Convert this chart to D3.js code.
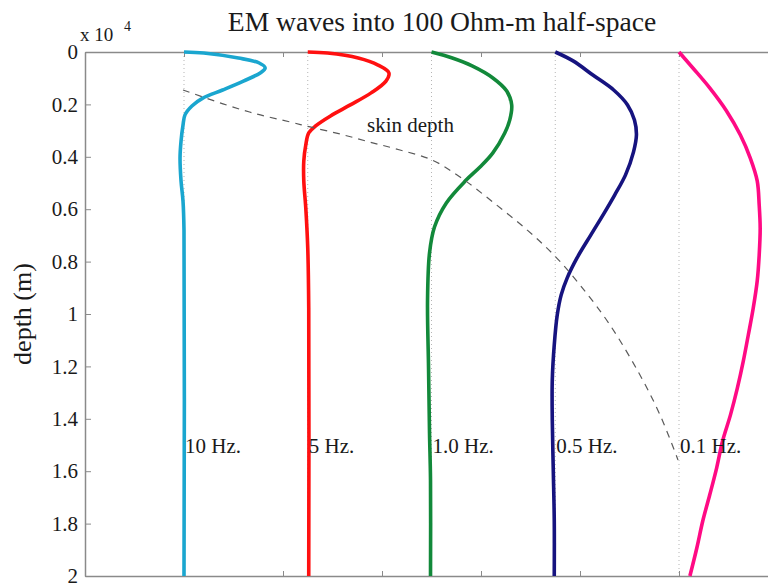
<!DOCTYPE html>
<html>
<head>
<meta charset="utf-8">
<script src="https://cdn.jsdelivr.net/npm/d3@7"></script>
<style>
  body { margin: 0; background: #fff; }
  text { font-family: "Liberation Serif", "Times New Roman", serif; fill: #1a1a1a; }
</style>
</head>
<body>
<svg id="chart" width="768" height="583"></svg>
<script>
const svg = d3.select("#chart");

// depth ticks, in units of 10^4 m
const yTicks = [0, 0.2, 0.4, 0.6, 0.8, 1, 1.2, 1.4, 1.6, 1.8, 2];
const xTicks = [0, 1, 2, 3, 4, 5, 6, 7];

// one zero line per frequency
const freqLabels = ["10 Hz.", "5 Hz.", "1.0 Hz.", "0.5 Hz.", "0.1 Hz."];
const baselines = [1, 2.25, 3.5, 4.75, 6.0];
const colors = ["#1aa6cf", "#ff1010", "#12893a", "#16137f", "#ff0a84"];

// [depth (x10^4 m), field amplitude relative to the zero line]
const wave10 = [[0,0],[0.004,0.2],[0.023,0.55],[0.042,0.76],[0.061,0.82],[0.080,0.77],[0.111,0.60],
  [0.145,0.39],[0.176,0.19],[0.206,0.08],[0.240,0.01],[0.279,-0.01],[0.340,-0.03],[0.405,-0.04],
  [0.492,-0.03],[0.569,-0.01],[0.68,0],[2,0]];
const wave5 = [[0,0],[0.004,0.2],[0.023,0.51],[0.050,0.71],[0.080,0.82],[0.111,0.79],[0.156,0.64],
  [0.202,0.43],[0.244,0.23],[0.282,0.08],[0.309,0.01],[0.355,-0.02],[0.416,-0.04],[0.492,-0.04],
  [0.595,-0.02],[0.748,0],[0.977,0.01],[2,0.01]];
const wave1 = [[0,0],[0.023,0.21],[0.053,0.41],[0.099,0.62],[0.149,0.76],[0.202,0.81],[0.260,0.79],
  [0.309,0.74],[0.385,0.62],[0.439,0.49],[0.489,0.35],[0.576,0.15],[0.668,0.03],[0.767,-0.02],
  [0.947,-0.04],[1.202,-0.03],[1.454,-0.02],[1.634,-0.01],[2,-0.01]];
const wave05 = [[0,0],[0.034,0.18],[0.088,0.38],[0.145,0.59],[0.202,0.73],[0.260,0.80],[0.317,0.82],
  [0.382,0.79],[0.469,0.71],[0.546,0.60],[0.611,0.50],[0.698,0.36],[0.786,0.22],[0.863,0.12],
  [0.927,0.06],[1.004,0.02],[1.118,-0.01],[1.252,-0.03],[1.405,-0.03],[1.595,-0.02],[1.786,-0.01],[2,-0.01]];
const wave01 = [[0,0],[0.061,0.14],[0.137,0.31],[0.225,0.48],[0.317,0.62],[0.405,0.72],[0.492,0.79],
  [0.584,0.81],[0.672,0.82],[0.775,0.81],[0.874,0.79],[0.977,0.75],[1.080,0.70],[1.179,0.65],
  [1.282,0.59],[1.385,0.52],[1.485,0.44],[1.588,0.38],[1.691,0.31],[1.790,0.24],[1.893,0.18],[2,0.11]];
const waves = [wave10, wave5, wave1, wave05, wave01];

// skin depth trace: [x position, depth]
const skinDepth = [[0.990,0.145],[1.394,0.198],[1.737,0.237],[2.071,0.267],[2.273,0.286],[2.576,0.313],
  [2.879,0.344],[3.182,0.374],[3.505,0.412],[3.788,0.477],[4.121,0.573],[4.465,0.679],[4.747,0.779],
  [5.000,0.889],[5.303,1.042],[5.606,1.233],[5.808,1.385],[5.990,1.557]];

const x = d3.scaleLinear().domain([0, 7.2]).range([85, 797.8]);
const y = d3.scaleLinear().domain([0, 2]).range([52, 576]);

// dotted zero lines
svg.selectAll("line.zero")
  .data(baselines)
  .enter()
  .append("line")
  .attr("x1", d => x(d)).attr("x2", d => x(d))
  .attr("y1", y(0)).attr("y2", y(2))
  .attr("stroke", "#b5b5b5")
  .attr("stroke-width", 1)
  .attr("stroke-dasharray", "1,3");

// axes: left with labels, top and bottom plain
const gray = "#8a8a8a";
const leftAxis = svg.append("g")
  .attr("transform", `translate(${x(0)},0)`)
  .call(d3.axisLeft(y).tickValues(yTicks).tickFormat(d => String(d))
    .tickSizeInner(-6).tickSizeOuter(0).tickPadding(7));
const topAxis = svg.append("g")
  .attr("transform", `translate(0,${y(0)})`)
  .call(d3.axisTop(x).tickValues(xTicks).tickFormat("").tickSizeInner(-5).tickSizeOuter(0));
const bottomAxis = svg.append("g")
  .attr("transform", `translate(0,${y(2)})`)
  .call(d3.axisBottom(x).tickValues(xTicks).tickFormat("").tickSizeInner(-5).tickSizeOuter(0));
[leftAxis, topAxis, bottomAxis].forEach(g => {
  g.select(".domain").attr("stroke", gray).attr("stroke-width", 1.5);
  g.selectAll(".tick line").attr("stroke", gray);
});
leftAxis.selectAll(".tick text")
  .style("font-family", "'Liberation Serif', 'Times New Roman', serif")
  .style("font-size", "21px")
  .attr("fill", "#1a1a1a");

// field curves
const line = d3.line()
  .x(d => x(d[0]))
  .y(d => y(d[1]))
  .curve(d3.curveCatmullRom.alpha(0.5));

svg.selectAll("path.wave")
  .data(waves)
  .enter()
  .append("path")
  .attr("class", "wave")
  .attr("fill", "none")
  .attr("stroke", (d, i) => colors[i])
  .attr("stroke-width", 3.6)
  .attr("stroke-linejoin", "round")
  .attr("d", (d, i) => line(d.map(p => [baselines[i] + p[1], p[0]])));

// skin depth dashed trace
svg.append("path")
  .attr("fill", "none")
  .attr("stroke", "#5a5a5a")
  .attr("stroke-width", 1.2)
  .attr("stroke-dasharray", "7,6")
  .attr("d", d3.line().x(d => x(d[0])).y(d => y(d[1])).curve(d3.curveCatmullRom)(skinDepth));

svg.append("text")
  .attr("x", 367).attr("y", 132)
  .style("font-size", "21px")
  .text("skin depth");

// frequency labels
svg.selectAll("text.freq")
  .data(freqLabels)
  .enter()
  .append("text")
  .attr("x", (d, i) => x(baselines[i]) + 1)
  .attr("y", 453)
  .style("font-size", "21px")
  .text(d => d);

// title, exponent, axis label
svg.append("text")
  .attr("x", 442).attr("y", 31)
  .attr("text-anchor", "middle")
  .style("font-size", "27.6px")
  .text("EM waves into 100 Ohm-m half-space");

svg.append("text")
  .attr("x", 80).attr("y", 41)
  .style("font-size", "19px")
  .text("x 10");
svg.append("text")
  .attr("x", 124).attr("y", 31)
  .style("font-size", "14px")
  .text("4");

svg.append("text")
  .attr("transform", "translate(31,314) rotate(-90)")
  .attr("text-anchor", "middle")
  .style("font-size", "26px")
  .text("depth (m)");
</script>
</body>
</html>
